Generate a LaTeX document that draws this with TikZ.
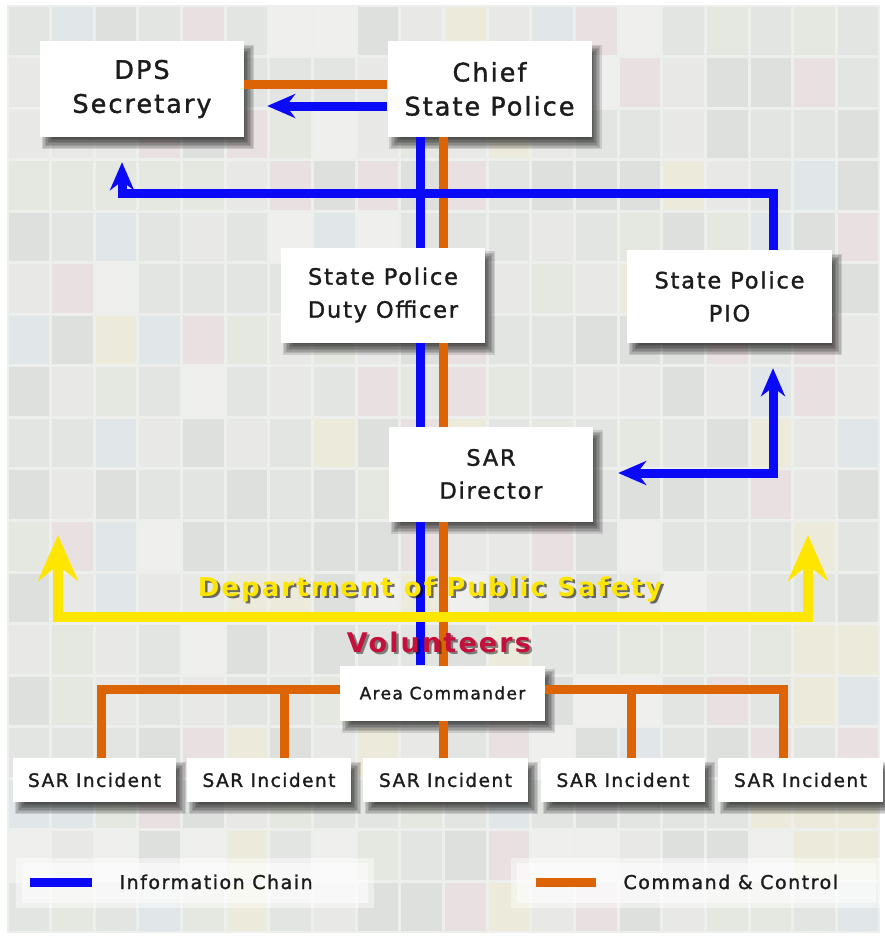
\documentclass[tikz,border=0pt]{standalone}
\usepackage{fontspec}
\newfontfamily\comic[LetterSpace=8,FakeBold=1.4]{DejaVu Sans}
\newfontfamily\comicb[LetterSpace=8]{DejaVu Sans}
\usetikzlibrary{arrows.meta,calc}

\definecolor{infoblue}{HTML}{0A0AF8}
\definecolor{cmdorange}{HTML}{DC6404}
\definecolor{dpsyellow}{HTML}{FFE600}
\definecolor{volred}{HTML}{C4103A}
\definecolor{ink}{HTML}{1C1C1C}
\definecolor{gapgray}{HTML}{EDEFED}
\definecolor{tA}{HTML}{E3E5E3}
\definecolor{tB}{HTML}{DEE0DE}
\definecolor{tC}{HTML}{E8E9E6}
\definecolor{tD}{HTML}{ECEADA}
\definecolor{tE}{HTML}{E9E1E1}
\definecolor{tF}{HTML}{E1E6E9}
\definecolor{tG}{HTML}{EFF0EE}
\definecolor{tH}{HTML}{E5E8E0}

\pgfmathdeclarerandomlist{tiles}{{tA}{tA}{tB}{tC}{tC}{tD}{tE}{tF}{tG}{tH}{tA}{tB}}

\pgfdeclarelayer{bg}
\pgfdeclarelayer{shade}
\pgfdeclarelayer{links}
\pgfsetlayers{bg,shade,links,main}

% soft drop shadow made of stacked translucent rectangles
\newcommand\dropshade[1]{%
  \foreach \k in {0,...,8}{%
    \fill[black,opacity=0.12]
      ($(#1.north west)+(\k*1.5-4+6,\k*1.5-4+8)$) rectangle
      ($(#1.south east)+(-\k*1.5+4+6,-\k*1.5+4+8)$);
  }}

\tikzset{
  box/.style={fill=white, inner sep=0pt, align=center, text=ink},
  topbox/.style={box, minimum width=204pt, minimum height=96pt,
    font=\comic\fontsize{25.5}{34}\selectfont},
  midbox/.style={box, minimum width=204pt, minimum height=95pt,
    font=\comic\fontsize{22.5}{33}\selectfont},
  incbox/.style={box, minimum width=164pt, minimum height=44pt,
    font=\comic\fontsize{18.5}{22}\selectfont},
  info/.style={draw=infoblue, line width=9pt},
  cmd/.style={draw=cmdorange, line width=9pt},
  dpsline/.style={draw=dpsyellow, line width=10pt},
  btip/.tip={Stealth[length=28pt,width=24pt,inset=9pt]},
  ytip/.tip={Stealth[length=46pt,width=40pt,inset=16pt]},
  legendtext/.style={anchor=base west, text=ink, font=\comic\fontsize{19}{22}\selectfont}
}

\begin{document}
\begin{tikzpicture}[x=1pt,y=-1pt]
\useasboundingbox (0,0) rectangle (884,940);

% ---------- boxes ----------
\node[topbox] (dps)   at (142,89)    {DPS\\Secretary};
\node[topbox] (chief) at (489.5,89)  {Chief\\State Police};
\node[midbox] (duty)  at (383,295)   {State Police\\Duty Officer};
\node[midbox, minimum width=205pt, minimum height=93pt] (pio) at (729.5,296.5) {State Police\\PIO};
\node[midbox] (sar)   at (491,474)   {SAR\\Director};
\node[box, minimum width=205pt, minimum height=55pt,
      font=\comic\fontsize{17}{20}\selectfont] (area) at (442.5,693) {Area Commander};
\node[incbox, minimum width=163pt] (inc1) at (94.5,780)  {SAR Incident};
\node[incbox]                     (inc2) at (269,780)   {SAR Incident};
\node[incbox, minimum width=165pt] (inc3) at (445.5,780) {SAR Incident};
\node[incbox]                     (inc4) at (623,780)   {SAR Incident};
\node[incbox, minimum width=165pt] (inc5) at (800.5,780) {SAR Incident};

% ---------- banner texts (with a soft cast shadow) ----------
\node[anchor=base, text=black, opacity=0.55, font=\comicb\bfseries\fontsize{26}{30}\selectfont]
  (dpsTextShade) at (432.5,598.5) {Department of Public Safety};
\node[anchor=base, text=dpsyellow, font=\comicb\bfseries\fontsize{26}{30}\selectfont]
  (dpsText) at (430,596) {Department of Public Safety};
\node[anchor=base, text=black, opacity=0.45, font=\comicb\bfseries\fontsize{27}{30}\selectfont]
  (volTextShade) at (441.5,654.5) {Volunteers};
\node[anchor=base, text=volred, font=\comicb\bfseries\fontsize{27}{30}\selectfont]
  (volText) at (439,652) {Volunteers};

% ---------- legend texts ----------
\node[legendtext] (infoLegend) at (116,889) {Information Chain};
\node[legendtext] (cmdLegend)  at (620,889) {Command \& Control};

% ---------- reference coordinates ----------
\coordinate (cY)    at (0,84);
\coordinate (bY)    at (0,106);
\coordinate (infoY) at (0,193);
\coordinate (pioX)  at (773,0);
\coordinate (dpsX)  at (122,0);
\coordinate (sarY)  at (0,473);
\coordinate (bX)    at (420,0);
\coordinate (oX)    at (443,0);
\coordinate (busY)  at (0,689);
\coordinate (c1)    at (101,0);
\coordinate (c2)    at (284,0);
\coordinate (c4)    at (631,0);
\coordinate (c5)    at (783,0);
\coordinate (yL)    at (58,535);
\coordinate (yLc)   at (58,617);
\coordinate (yRc)   at (808,617);
\coordinate (yR)    at (808,535);
\coordinate (lgB1)  at (30,882);
\coordinate (lgB2)  at (92,882);
\coordinate (lgO1)  at (536,882);
\coordinate (lgO2)  at (596,882);

% ---------- background mosaic ----------
\begin{pgfonlayer}{bg}
  \fill[white] (0,0) rectangle (884,940);
  \fill[gapgray] (7,5) rectangle (880,933);
  \pgfmathsetseed{2024}
  \foreach \i in {0,...,19}{
    \foreach \j in {0,...,17}{
      \pgfmathrandomitem{\tc}{tiles}
      \fill[\tc] (7+\i*43.65+1.5,5+\j*51.55+1.5) rectangle ++(40.6,48.5);
    }
  }
  % soft white panels behind the legend
  \fill[white,opacity=0.45] (16,858) rectangle (374,908);
  \fill[white,opacity=0.5]  (22,863) rectangle (368,903);
  \fill[white,opacity=0.45] (511,858) rectangle (880,908);
  \fill[white,opacity=0.5]  (517,863) rectangle (876,903);
\end{pgfonlayer}

% ---------- shadows ----------
\begin{pgfonlayer}{shade}
  \foreach \n in {dps,chief,duty,pio,sar,area,inc1,inc2,inc3,inc4,inc5}{\dropshade{\n}}
\end{pgfonlayer}

% ---------- connectors ----------
\begin{pgfonlayer}{links}
  % chief to secretary
  \draw[cmd] (chief.west |- cY) -- (dps.east |- cY);
  \draw[info, -btip, shorten >=23pt] (chief.west |- bY) -- (dps.east |- bY);
  % main chain
  \draw[info] (bX |- chief.south) -- (bX |- area.north);
  \draw[cmd]  (oX |- chief.south) -- (oX |- inc3.north);
  % PIO to secretary
  \draw[info, -btip, shorten >=25pt]
    (pioX |- pio.north) -- (pioX |- infoY) -- (dpsX |- infoY) -- (dpsX |- dps.south);
  % director to PIO
  \draw[info, btip-btip, shorten <=25pt, shorten >=25pt]
    (sar.east |- sarY) -- (pioX |- sarY) -- (pioX |- pio.south);
  % public safety bracket
  \draw[dpsline, ytip-ytip] (yL) -- (yLc) -- (yRc) -- (yR);
  % incident bus
  \draw[cmd] (c1 |- inc1.north) -- (c1 |- busY) -- (c5 |- busY) -- (c5 |- inc5.north);
  \draw[cmd] (c2 |- busY) -- (c2 |- inc2.north);
  \draw[cmd] (c4 |- busY) -- (c4 |- inc4.north);
  % legend swatches
  \draw[info] (lgB1) -- (lgB2);
  \draw[cmd]  (lgO1) -- (lgO2);
\end{pgfonlayer}
\end{tikzpicture}
\end{document}
